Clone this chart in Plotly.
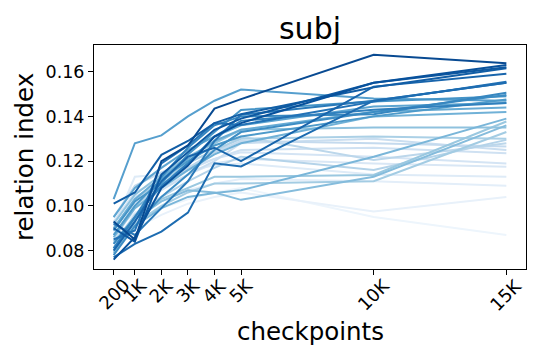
import plotly.graph_objects as go
from plotly.colors import sample_colorscale

# Checkpoints on the x axis and their labels
checkpoints = [200, 1000, 2000, 3000, 4000, 5000, 10000, 15000]
tick_labels = ['200', '1K', '2K', '3K', '4K', '5K', '10K', '15K']
y_ticks = [0.08, 0.10, 0.12, 0.14, 0.16]

# Relation index per run, ordered from lightest to darkest line
relation_index = [
    [0.084, 0.093, 0.099, 0.103, 0.106, 0.108, 0.095, 0.087],
    [0.082, 0.090, 0.096, 0.101, 0.104, 0.106, 0.0975, 0.104],
    [0.088, 0.097, 0.102, 0.107, 0.110, 0.112, 0.111, 0.109],
    [0.091, 0.113, 0.114, 0.116, 0.118, 0.119, 0.114, 0.113],
    [0.086, 0.101, 0.108, 0.114, 0.119, 0.121, 0.119, 0.1175],
    [0.093, 0.106, 0.112, 0.117, 0.121, 0.124, 0.122, 0.119],
    [0.089, 0.104, 0.110, 0.116, 0.121, 0.125, 0.126, 0.1235],
    [0.085, 0.099, 0.107, 0.114, 0.120, 0.128, 0.130, 0.125],
    [0.095, 0.109, 0.115, 0.120, 0.124, 0.129, 0.128, 0.1265],
    [0.087, 0.100, 0.109, 0.117, 0.124, 0.131, 0.1205, 0.128],
    [0.083, 0.096, 0.104, 0.111, 0.117, 0.122, 0.116, 0.1295],
    [0.090, 0.103, 0.111, 0.119, 0.125, 0.130, 0.131, 0.130],
    [0.080, 0.092, 0.100, 0.106, 0.110, 0.110, 0.111, 0.133],
    [0.084, 0.095, 0.103, 0.108, 0.113, 0.113, 0.1138, 0.1377],
    [0.092, 0.105, 0.114, 0.122, 0.128, 0.134, 0.135, 0.135],
    [0.081, 0.094, 0.102, 0.107, 0.106, 0.1027, 0.113, 0.136],
    [0.079, 0.091, 0.099, 0.104, 0.1058, 0.107, 0.122, 0.139],
    [0.086, 0.099, 0.108, 0.116, 0.123, 0.128, 0.140, 0.142],
    [0.090, 0.103, 0.113, 0.121, 0.129, 0.134, 0.1421, 0.144],
    [0.095, 0.108, 0.117, 0.125, 0.131, 0.136, 0.1444, 0.146],
    [0.103, 0.128, 0.1315, 0.140, 0.147, 0.152, 0.148, 0.147],
    [0.087, 0.100, 0.112, 0.120, 0.127, 0.131, 0.140, 0.1475],
    [0.089, 0.102, 0.110, 0.123, 0.133, 0.1429, 0.1466, 0.149],
    [0.078, 0.091, 0.104, 0.114, 0.125, 0.133, 0.142, 0.1496],
    [0.083, 0.095, 0.113, 0.126, 0.136, 0.140, 0.141, 0.1506],
    [0.081, 0.095, 0.109, 0.119, 0.131, 0.138, 0.143, 0.146],
    [0.092, 0.087, 0.099, 0.111, 0.129, 0.1407, 0.147, 0.155],
    [0.085, 0.089, 0.119, 0.127, 0.137, 0.1362, 0.1466, 0.1555],
    [0.077, 0.083, 0.0885, 0.097, 0.119, 0.1176, 0.147, 0.155],
    [0.080, 0.093, 0.111, 0.122, 0.126, 0.120, 0.1533, 0.159],
    [0.101, 0.106, 0.1228, 0.129, 0.137, 0.141, 0.153, 0.1615],
    [0.090, 0.084, 0.114, 0.124, 0.134, 0.139, 0.155, 0.162],
    [0.076, 0.086, 0.108, 0.118, 0.131, 0.137, 0.155, 0.163],
    [0.093, 0.085, 0.120, 0.127, 0.1435, 0.1477, 0.1675, 0.1638],
]

font = 'DejaVu Sans'
n = len(relation_index)
colors = sample_colorscale('Blues', [0.05 + 0.85 * i / (n - 1) for i in range(n)])

fig = go.Figure()
for values, color in zip(relation_index, colors):
    fig.add_trace(go.Scatter(x=checkpoints, y=values, mode='lines',
                             line=dict(color=color, width=2), showlegend=False))

# Rotated x tick labels centred on the ticks (like matplotlib)
for value, label in zip(checkpoints, tick_labels):
    fig.add_annotation(x=value, xref='x', y=0, yref='paper', text=label,
                       textangle=-45, showarrow=False, xanchor='center', yanchor='top',
                       yshift=-3, font=dict(family=font, size=18, color='black'))

# Axis titles placed by hand (plot area is 432 x 224 px)
fig.add_annotation(x=0.5, xref='paper', y=(269 - 331) / 224, yref='paper', text='checkpoints',
                   showarrow=False, xanchor='center', yanchor='middle',
                   font=dict(family=font, size=24.5, color='black'))
fig.add_annotation(x=(24 - 94) / 432, xref='paper', y=0.5, yref='paper', text='relation index',
                   showarrow=False, textangle=-90, xanchor='center', yanchor='middle',
                   font=dict(family=font, size=24.5, color='black'))

# page body has an 8px margin, so the figure is 8px smaller than the window
fig.update_layout(
    width=532, height=352,
    margin=dict(l=86, r=14, t=37, b=91, autoexpand=False),
    paper_bgcolor='white', plot_bgcolor='white',
    font=dict(family=font, color='black'),
    title=dict(text='subj', x=0.5, xref='paper', xanchor='center',
               y=1, yref='paper', yanchor='bottom', pad=dict(b=6),
               font=dict(family=font, size=30, color='black')),
)
fig.update_xaxes(range=[-540, 15740], tickvals=checkpoints, showticklabels=False,
                 ticks='outside', ticklen=5, tickwidth=1, tickcolor='black',
                 showline=True, linecolor='black', linewidth=1, mirror=True,
                 showgrid=False, zeroline=False, automargin=False)
fig.update_yaxes(range=[0.0718, 0.1719], tickvals=y_ticks, tickformat='.2f',
                 ticks='outside', ticklen=5, tickwidth=1, tickcolor='black',
                 tickfont=dict(family=font, size=17.5, color='black'),
                 showline=True, linecolor='black', linewidth=1, mirror=True,
                 showgrid=False, zeroline=False, automargin=False)

fig.write_html('out.html')
